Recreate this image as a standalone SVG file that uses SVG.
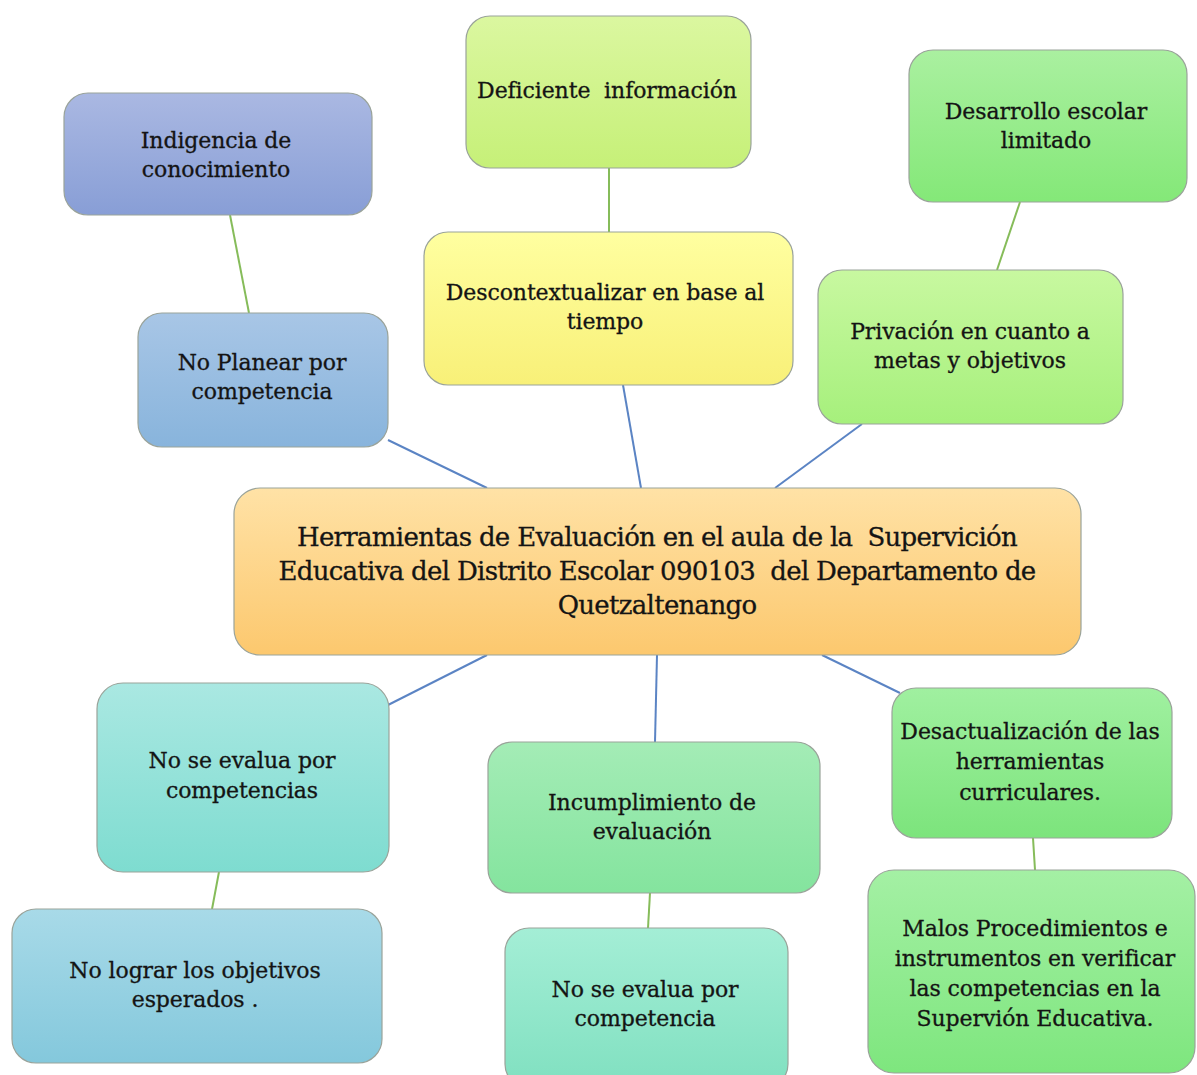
<svg xmlns="http://www.w3.org/2000/svg" width="1197" height="1075" viewBox="0 0 1197 1075">
<defs>
<linearGradient id="g1" x1="0" y1="0" x2="0" y2="1"><stop offset="0" stop-color="#aab8e2"/><stop offset="1" stop-color="#889ed6"/></linearGradient>
<linearGradient id="g2" x1="0" y1="0" x2="0" y2="1"><stop offset="0" stop-color="#dbf7a0"/><stop offset="1" stop-color="#c6f078"/></linearGradient>
<linearGradient id="g3" x1="0" y1="0" x2="0" y2="1"><stop offset="0" stop-color="#aaf0a0"/><stop offset="1" stop-color="#84e878"/></linearGradient>
<linearGradient id="g4" x1="0" y1="0" x2="0" y2="1"><stop offset="0" stop-color="#a8c6e6"/><stop offset="1" stop-color="#88b4dc"/></linearGradient>
<linearGradient id="g5" x1="0" y1="0" x2="0" y2="1"><stop offset="0" stop-color="#ffffa0"/><stop offset="1" stop-color="#f8f078"/></linearGradient>
<linearGradient id="g6" x1="0" y1="0" x2="0" y2="1"><stop offset="0" stop-color="#c8f8a0"/><stop offset="1" stop-color="#a6f07c"/></linearGradient>
<linearGradient id="g7" x1="0" y1="0" x2="0" y2="1"><stop offset="0" stop-color="#ffe2a6"/><stop offset="1" stop-color="#fcc86e"/></linearGradient>
<linearGradient id="g8" x1="0" y1="0" x2="0" y2="1"><stop offset="0" stop-color="#aae8e2"/><stop offset="1" stop-color="#7edcd0"/></linearGradient>
<linearGradient id="g9" x1="0" y1="0" x2="0" y2="1"><stop offset="0" stop-color="#a4ecb6"/><stop offset="1" stop-color="#84e49e"/></linearGradient>
<linearGradient id="g10" x1="0" y1="0" x2="0" y2="1"><stop offset="0" stop-color="#a0f0a0"/><stop offset="1" stop-color="#7ce47c"/></linearGradient>
<linearGradient id="g11" x1="0" y1="0" x2="0" y2="1"><stop offset="0" stop-color="#a8dae8"/><stop offset="1" stop-color="#84c8dc"/></linearGradient>
<linearGradient id="g12" x1="0" y1="0" x2="0" y2="1"><stop offset="0" stop-color="#a4eed6"/><stop offset="1" stop-color="#80e0c0"/></linearGradient>
<linearGradient id="g13" x1="0" y1="0" x2="0" y2="1"><stop offset="0" stop-color="#a4f0a4"/><stop offset="1" stop-color="#7ee67e"/></linearGradient>
</defs>
<style>
rect{stroke:#9aa39a;stroke-width:1.2}
text{font-family:"DejaVu Serif","Liberation Serif",serif;font-size:22px;fill:#141414;stroke:#141414;stroke-width:0.3;text-anchor:middle;letter-spacing:-0.1px;white-space:pre}
.c{font-size:26px;letter-spacing:-0.7px}
.b{stroke:#5b84c4;stroke-width:2;fill:none}
.g{stroke:#86bc5a;stroke-width:2;fill:none}
</style>
<rect width="1197" height="1075" fill="#ffffff" style="stroke:none"/>
<g id="connectors">
<line class="g" x1="230" y1="215" x2="249" y2="313"/>
<line class="g" x1="609" y1="168" x2="609" y2="232"/>
<line class="g" x1="1020" y1="202" x2="997" y2="270"/>
<line class="b" x1="388" y1="440" x2="487" y2="488"/>
<line class="b" x1="623" y1="385" x2="641" y2="488"/>
<line class="b" x1="862" y1="424" x2="775" y2="488"/>
<line class="b" x1="487" y1="655" x2="388" y2="705"/>
<line class="b" x1="657" y1="655" x2="655" y2="742"/>
<line class="b" x1="822" y1="655" x2="900" y2="693"/>
<line class="g" x1="219" y1="872" x2="212" y2="909"/>
<line class="g" x1="650" y1="893" x2="648" y2="928"/>
<line class="g" x1="1033" y1="838" x2="1035" y2="870"/>
</g>
<g id="n1"><rect x="64" y="93" width="308" height="122" rx="24" fill="url(#g1)"/><text x="216" y="148">Indigencia de</text><text x="216" y="177">conocimiento</text></g>
<g id="n2"><rect x="466" y="16" width="285" height="152" rx="24" fill="url(#g2)"/><text x="607" y="98" xml:space="preserve">Deficiente  información</text></g>
<g id="n3"><rect x="909" y="50" width="278" height="152" rx="24" fill="url(#g3)"/><text x="1046" y="119">Desarrollo escolar</text><text x="1046" y="148">limitado</text></g>
<g id="n4"><rect x="138" y="313" width="250" height="134" rx="24" fill="url(#g4)"/><text x="262" y="370">No Planear por</text><text x="262" y="399">competencia</text></g>
<g id="n5"><rect x="424" y="232" width="369" height="153" rx="24" fill="url(#g5)"/><text x="605" y="300">Descontextualizar en base al</text><text x="605" y="329">tiempo</text></g>
<g id="n6"><rect x="818" y="270" width="305" height="154" rx="24" fill="url(#g6)"/><text x="970" y="339">Privación en cuanto a</text><text x="970" y="368">metas y objetivos</text></g>
<g id="n7"><rect x="234" y="488" width="847" height="167" rx="26" fill="url(#g7)"/><text class="c" x="657" y="546" xml:space="preserve">Herramientas de Evaluación en el aula de la  Supervición</text><text class="c" x="657" y="580" xml:space="preserve">Educativa del Distrito Escolar 090103  del Departamento de</text><text class="c" x="657" y="614">Quetzaltenango</text></g>
<g id="n8"><rect x="97" y="683" width="292" height="189" rx="26" fill="url(#g8)"/><text x="242" y="768">No se evalua por</text><text x="242" y="798">competencias</text></g>
<g id="n9"><rect x="488" y="742" width="332" height="151" rx="24" fill="url(#g9)"/><text x="652" y="810">Incumplimiento de</text><text x="652" y="839">evaluación</text></g>
<g id="n10"><rect x="892" y="688" width="280" height="150" rx="24" fill="url(#g10)"/><text x="1030" y="739">Desactualización de las</text><text x="1030" y="769">herramientas</text><text x="1030" y="800">curriculares.</text></g>
<g id="n11"><rect x="12" y="909" width="370" height="154" rx="24" fill="url(#g11)"/><text x="195" y="978">No lograr los objetivos</text><text x="195" y="1007">esperados .</text></g>
<g id="n12"><rect x="505" y="928" width="283" height="160" rx="24" fill="url(#g12)"/><text x="645" y="997">No se evalua por</text><text x="645" y="1026">competencia</text></g>
<g id="n13"><rect x="868" y="870" width="327" height="203" rx="26" fill="url(#g13)"/><text x="1035" y="936">Malos Procedimientos e</text><text x="1035" y="966">instrumentos en verificar</text><text x="1035" y="996">las competencias en la</text><text x="1035" y="1026">Supervión Educativa.</text></g>
</svg>
